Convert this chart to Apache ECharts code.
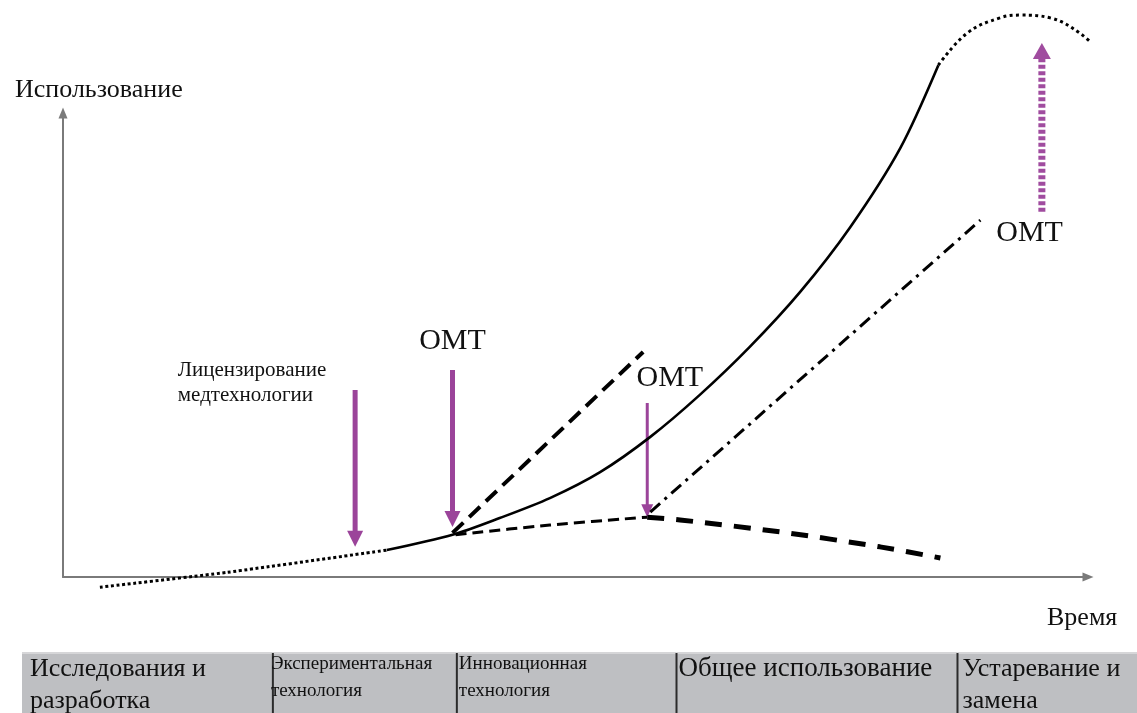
<!DOCTYPE html>
<html>
<head>
<meta charset="utf-8">
<script src="https://cdn.jsdelivr.net/npm/echarts/dist/echarts.min.js"></script>
<style>
html,body{margin:0;padding:0;background:#fff;}
#chart{width:1137px;height:713px;}
</style>
</head>
<body>
<div id="chart"></div>
<script>
// ---- data (conceptual units: x = time 0..100, y = usage 0..100) ----
const researchDotted = [[3.6, -2.2], [16, 1.0], [31.6, 5.8]];
const mainSolid = [[31.6, 5.8], [38.0, 9.1], [42.6, 12.7], [47.5, 17.0], [52.4, 22.6], [57.3, 30.2], [62.1, 39.2], [67.0, 49.6], [71.9, 61.4], [76.8, 75.4], [81.7, 92.5], [85.4, 110.3]];
const obsolescenceDotted = [[85.4, 110.3], [88.2, 117.2], [91.4, 120.5], [93.4, 121.1], [96.3, 120.5], [99.2, 117.2], [101.7, 112.1]];
const fastAdoptionDashed = [[38.0, 9.5], [56.6, 48.5]];
const stalledDashedEarly = [[38.3, 9.1], [47.5, 11.2], [57.0, 12.9]];
const stalledDashedLate = [[57.0, 12.9], [60.2, 12.3], [70.0, 9.7], [79.7, 6.5], [85.6, 4.1]];
const altDashDot = [[57.3, 14.0], [89.5, 76.9]];

// arrows: [x, yFrom, yTo]
const licenseArrow = [28.5, 40.3, 6.5];
const omtArrows = [[38.0, 44.6, 10.8], [57.0, 37.5, 12.9]];
const omtUpArrow = [95.5, 78.7, 115.1];

const omtLabel = 'ОМТ';
const omtLabelPoints = [[38.0, 50.9], [59.2, 42.9], [94.3, 74.1]];
const licenseLabel = 'Лицензирование\nмедтехнологии';
const licenseLabelPoint = [11.2, 41.8];

const yAxisTitle = 'Использование';
const xAxisTitle = 'Время';

const stageNames = ['Исследования и\nразработка', 'Экспериментальная\nтехнология', 'Инновационная\nтехнология', 'Общее использование', 'Устаревание и\nзамена'];
const stageBounds = [0, 22.5, 39.0, 58.7, 83.9, 100];

// ---- styles ----
const FONT = '"Liberation Serif", "Times New Roman", serif';
const PURPLE = '#9B449A';
const stageFontSize = [26, 19, 19, 27, 26];
const stageLineHeight = [32, 27, 27, 32, 32];
const stagePad = [8, -2, 2, 2, 5];
// arrow styles: [lineWidth, dash, headWidth, headLength, color]
const arrowStyles = [
  [5, null, 16, 16, PURPLE],
  [5, null, 16, 16, PURPLE],
  [3, null, 12, 13, PURPLE],
  [7, [4, 2.5], 18, 16, '#A04C9F']
];

const chart = echarts.init(document.getElementById('chart'), null, {renderer: 'canvas'});

function lineSeries(data, style, smooth) {
  return {
    type: 'line', xAxisIndex: 0, yAxisIndex: 0, data: data, symbol: 'none',
    smooth: smooth || false, clip: false, silent: true, animation: false,
    lineStyle: Object.assign({color: '#000', cap: 'butt'}, style)
  };
}

const arrowData = [licenseArrow, omtArrows[0], omtArrows[1], omtUpArrow].map((a, i) => [a[0], a[1], a[2], i]);

const option = {
  animation: false,
  backgroundColor: '#fff',
  title: [
    {text: yAxisTitle, left: 10, top: 72, textStyle: {fontFamily: FONT, fontSize: 26, fontWeight: 'normal', color: '#111'}},
    {text: xAxisTitle, left: 1042, top: 600, textStyle: {fontFamily: FONT, fontSize: 26, fontWeight: 'normal', color: '#111'}}
  ],
  grid: [
    {left: 63, right: 49, top: 113, bottom: 136},
    {left: 22, right: 0, top: 653, bottom: 0}
  ],
  xAxis: [
    {type: 'value', gridIndex: 0, min: 0, max: 100,
     axisLine: {show: true, onZero: false, symbol: ['none', 'triangle'], symbolSize: [9, 11], lineStyle: {color: '#7a7a7a', width: 2}},
     axisTick: {show: false}, axisLabel: {show: false}, splitLine: {show: false}},
    {type: 'value', gridIndex: 1, min: 0, max: 100, show: false}
  ],
  yAxis: [
    {type: 'value', gridIndex: 0, min: 0, max: 100,
     axisLine: {show: true, onZero: false, symbol: ['none', 'triangle'], symbolSize: [9, 11], lineStyle: {color: '#7a7a7a', width: 2}},
     axisTick: {show: false}, axisLabel: {show: false}, splitLine: {show: false}},
    {type: 'value', gridIndex: 1, min: 0, max: 1, show: false}
  ],
  series: [
    // stage table
    {
      type: 'custom', xAxisIndex: 1, yAxisIndex: 1, silent: true, clip: false,
      data: stageNames.map((n, i) => [stageBounds[i], stageBounds[i + 1], i]),
      renderItem: function (params, api) {
        const i = api.value(2);
        const p0 = api.coord([api.value(0), 1]);
        const p1 = api.coord([api.value(1), 0]);
        const children = [
          {type: 'rect', shape: {x: p0[0], y: p0[1], width: p1[0] - p0[0], height: p1[1] - p0[1] + 10}, style: {fill: '#BEBFC2'}},
          {type: 'line', shape: {x1: p0[0], y1: p0[1], x2: p1[0], y2: p0[1]}, style: {stroke: '#d6d6d8', lineWidth: 2}}
        ];
        if (i > 0) {
          children.push({type: 'line', shape: {x1: p0[0], y1: p0[1], x2: p0[0], y2: p1[1] + 10}, style: {stroke: '#2b2b2b', lineWidth: 2}});
        }
        const lh = stageLineHeight[i];
        children.push({type: 'text', style: {
          text: stageNames[i], x: p0[0] + stagePad[i], y: p0[1] + (lh === 32 ? 0 : -2),
          fontFamily: FONT, fontSize: stageFontSize[i], lineHeight: lh, fill: '#111',
          align: 'left', verticalAlign: 'top'
        }});
        return {type: 'group', children: children};
      }
    },
    lineSeries(researchDotted, {width: 3, type: [3, 2.6]}, 0.2),
    lineSeries(mainSolid, {width: 2.6, type: 'solid'}, 0.3),
    lineSeries(obsolescenceDotted, {width: 3, type: [3, 3.4]}, 0.4),
    lineSeries(fastAdoptionDashed, {width: 4, type: [15, 8]}),
    lineSeries(stalledDashedEarly, {width: 3, type: [11, 6]}, 0.3),
    lineSeries(stalledDashedLate, {width: 5, type: [17, 12]}, 0.3),
    lineSeries(altDashDot, {width: 3, type: [13, 6, 3, 6]}),
    // arrows
    {
      type: 'custom', xAxisIndex: 0, yAxisIndex: 0, silent: true, clip: false,
      data: arrowData,
      renderItem: function (params, api) {
        const s = arrowStyles[api.value(3)];
        const p0 = api.coord([api.value(0), api.value(1)]);
        const p1 = api.coord([api.value(0), api.value(2)]);
        const dir = p1[1] > p0[1] ? 1 : -1;
        const baseY = p1[1] - dir * s[3];
        return {type: 'group', children: [
          {type: 'line', shape: {x1: p0[0], y1: p0[1], x2: p0[0], y2: baseY + dir * 1},
           style: {stroke: s[4], lineWidth: s[0], lineDash: s[1] || null, lineCap: 'butt'}},
          {type: 'polygon', shape: {points: [[p1[0] - s[2] / 2, baseY], [p1[0] + s[2] / 2, baseY], [p1[0], p1[1]]]},
           style: {fill: s[4]}}
        ]};
      }
    },
    // labels
    {
      type: 'custom', xAxisIndex: 0, yAxisIndex: 0, silent: true, clip: false,
      data: omtLabelPoints,
      renderItem: function (params, api) {
        const p = api.coord([api.value(0), api.value(1)]);
        return {type: 'text', style: {text: omtLabel, x: p[0], y: p[1], align: 'center', verticalAlign: 'middle',
          fontFamily: FONT, fontSize: 30, fill: '#111'}};
      }
    },
    {
      type: 'custom', xAxisIndex: 0, yAxisIndex: 0, silent: true, clip: false,
      data: [licenseLabelPoint],
      renderItem: function (params, api) {
        const p = api.coord([api.value(0), api.value(1)]);
        return {type: 'text', style: {text: licenseLabel, x: p[0], y: p[1], align: 'left', verticalAlign: 'middle',
          fontFamily: FONT, fontSize: 21, lineHeight: 25, fill: '#111'}};
      }
    }
  ]
};
chart.setOption(option);
</script>
</body>
</html>
